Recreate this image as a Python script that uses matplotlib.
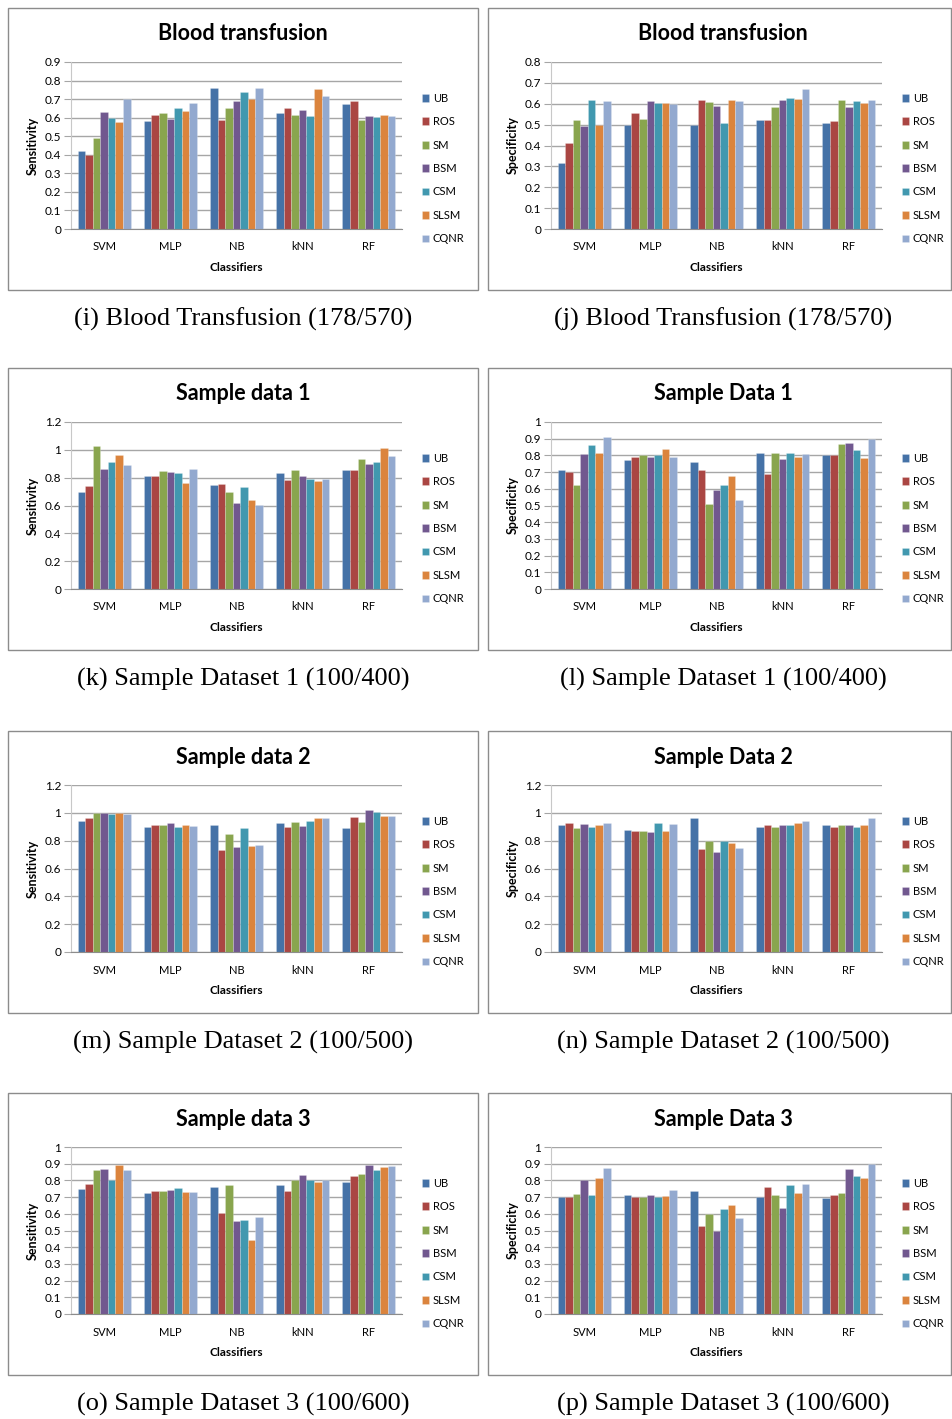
import numpy as np
import matplotlib
matplotlib.use("Agg")
import matplotlib.pyplot as plt
from matplotlib.patches import Rectangle

# classifiers on the x axis, balancing methods as the bar series
classifiers = ["SVM", "MLP", "NB", "kNN", "RF"]
methods = ["UB", "ROS", "SM", "BSM", "CSM", "SLSM", "CQNR"]
colors = ["#4572A7", "#AA4643", "#89A54E", "#71588F", "#4198AF", "#DB843D", "#93A9CF"]

# one row per classifier, one column per method
blood_sens = [
    [0.42, 0.40, 0.49, 0.63, 0.60, 0.575, 0.70],
    [0.58, 0.615, 0.625, 0.595, 0.65, 0.635, 0.68],
    [0.76, 0.59, 0.65, 0.69, 0.74, 0.70, 0.76],
    [0.625, 0.65, 0.615, 0.64, 0.61, 0.755, 0.715],
    [0.675, 0.69, 0.59, 0.61, 0.605, 0.615, 0.61],
]
blood_spec = [
    [0.318, 0.41, 0.52, 0.495, 0.62, 0.50, 0.615],
    [0.50, 0.555, 0.527, 0.615, 0.603, 0.603, 0.60],
    [0.50, 0.62, 0.607, 0.59, 0.51, 0.62, 0.615],
    [0.52, 0.52, 0.583, 0.617, 0.627, 0.625, 0.672],
    [0.51, 0.517, 0.617, 0.583, 0.613, 0.603, 0.617],
]
s1_sens = [
    [0.70, 0.74, 1.025, 0.865, 0.91, 0.965, 0.89],
    [0.815, 0.815, 0.85, 0.84, 0.835, 0.765, 0.865],
    [0.745, 0.755, 0.695, 0.62, 0.73, 0.64, 0.605],
    [0.835, 0.78, 0.855, 0.81, 0.79, 0.775, 0.79],
    [0.855, 0.855, 0.935, 0.895, 0.915, 1.01, 0.955],
]
s1_spec = [
    [0.715, 0.70, 0.62, 0.81, 0.865, 0.815, 0.91],
    [0.77, 0.79, 0.80, 0.79, 0.80, 0.84, 0.79],
    [0.76, 0.715, 0.51, 0.59, 0.62, 0.675, 0.53],
    [0.815, 0.69, 0.815, 0.78, 0.815, 0.79, 0.81],
    [0.805, 0.80, 0.87, 0.875, 0.83, 0.785, 0.90],
]
s2_sens = [
    [0.94, 0.96, 1.0, 1.0, 0.99, 1.0, 0.99],
    [0.895, 0.91, 0.915, 0.925, 0.895, 0.915, 0.905],
    [0.91, 0.73, 0.85, 0.755, 0.89, 0.765, 0.77],
    [0.925, 0.895, 0.935, 0.905, 0.94, 0.965, 0.965],
    [0.89, 0.97, 0.935, 1.02, 1.005, 0.98, 0.98],
]
s2_spec = [
    [0.915, 0.925, 0.89, 0.92, 0.90, 0.915, 0.93],
    [0.88, 0.87, 0.87, 0.865, 0.93, 0.87, 0.92],
    [0.96, 0.74, 0.80, 0.715, 0.80, 0.785, 0.75],
    [0.90, 0.915, 0.90, 0.915, 0.91, 0.925, 0.94],
    [0.915, 0.90, 0.915, 0.91, 0.90, 0.91, 0.96],
]
s3_sens = [
    [0.75, 0.78, 0.86, 0.87, 0.80, 0.89, 0.86],
    [0.725, 0.735, 0.735, 0.74, 0.755, 0.73, 0.73],
    [0.76, 0.605, 0.77, 0.555, 0.56, 0.445, 0.58],
    [0.77, 0.735, 0.805, 0.83, 0.80, 0.79, 0.80],
    [0.79, 0.825, 0.84, 0.895, 0.865, 0.88, 0.885],
]
s3_spec = [
    [0.70, 0.70, 0.72, 0.80, 0.715, 0.815, 0.875],
    [0.71, 0.70, 0.70, 0.715, 0.70, 0.705, 0.74],
    [0.735, 0.525, 0.60, 0.50, 0.63, 0.65, 0.575],
    [0.70, 0.76, 0.71, 0.635, 0.77, 0.725, 0.78],
    [0.695, 0.715, 0.725, 0.87, 0.825, 0.815, 0.90],
]

# (data, title, ylabel, ymax, step, caption)
panels = [
    (blood_sens, "Blood transfusion", "Sensitivity", 0.9, 0.1, "(i) Blood Transfusion (178/570)"),
    (blood_spec, "Blood transfusion", "Specificity", 0.8, 0.1, "(j) Blood Transfusion (178/570)"),
    (s1_sens, "Sample data 1", "Sensitivity", 1.2, 0.2, "(k) Sample Dataset 1 (100/400)"),
    (s1_spec, "Sample Data 1", "Specificity", 1.0, 0.1, "(l) Sample Dataset 1 (100/400)"),
    (s2_sens, "Sample data 2", "Sensitivity", 1.2, 0.2, "(m) Sample Dataset 2 (100/500)"),
    (s2_spec, "Sample Data 2", "Specificity", 1.2, 0.2, "(n) Sample Dataset 2 (100/500)"),
    (s3_sens, "Sample data 3", "Sensitivity", 1.0, 0.1, "(o) Sample Dataset 3 (100/600)"),
    (s3_spec, "Sample Data 3", "Specificity", 1.0, 0.1, "(p) Sample Dataset 3 (100/600)"),
]

W, H = 952, 1419
chart_font = ["Lato", "DejaVu Sans"]
plt.rcParams["font.family"] = chart_font

fig = plt.figure(figsize=(W / 100, H / 100), dpi=100)


def fx(px):
    return px / W


def fy(py):
    return 1 - py / H


box_tops = [8, 368, 731, 1093]
x = np.arange(len(classifiers))
bw = 0.8 / len(methods)

for i, (data, title, ylabel, ymax, step, caption) in enumerate(panels):
    row, col = divmod(i, 2)
    bl = 8 if col == 0 else 488
    br = 478 if col == 0 else 951
    bt = box_tops[row]

    # panel frame
    fig.patches.append(Rectangle((fx(bl), fy(bt + 282)), (br - bl) / W, 282 / H,
                                 transform=fig.transFigure, fill=False,
                                 edgecolor="#8c8c8c", lw=1))

    left, right, top, bottom = bl + 63, bl + 394, bt + 54, bt + 221
    ax = fig.add_axes([fx(left), fy(bottom), (right - left) / W, (bottom - top) / H])
    vals = np.array(data)
    for j, m in enumerate(methods):
        ax.bar(x - 0.4 + bw * (j + 0.5), vals[:, j], bw, color=colors[j], label=m,
               edgecolor=(1, 1, 1, 0.35), lw=0.4)

    ax.set_xlim(-0.5, len(classifiers) - 0.5)
    ax.set_ylim(0, ymax)
    ticks = np.round(np.arange(0, ymax + 1e-9, step), 2)
    ax.set_yticks(ticks)
    ax.set_yticklabels([f"{t:g}" for t in ticks])
    ax.set_xticks(x)
    ax.set_xticklabels(classifiers)
    ax.yaxis.grid(True, color="#a6a6a6", lw=1)
    ax.set_axisbelow(True)
    for s in ("top", "right"):
        ax.spines[s].set_visible(False)
    ax.spines["left"].set_color("#c8c8c8")
    ax.spines["bottom"].set_color("#8c8c8c")
    ax.tick_params(axis="y", length=5, color="#a6a6a6", labelsize=8.5, pad=2)
    ax.tick_params(axis="x", length=0, labelsize=8, pad=9)

    ax.set_xlabel("Classifiers", fontsize=8.5, fontweight="bold", labelpad=7)
    ax.set_ylabel(ylabel, fontsize=9, fontweight="bold")
    ax.yaxis.set_label_coords((bl + 31 - left) / (right - left), 0.5)

    ax.legend(loc="center left", bbox_to_anchor=(fx(bl + 408), fy(bt + 160.5)),
              bbox_transform=fig.transFigure, frameon=False, fontsize=8,
              handlelength=0.7, handleheight=0.7, handletextpad=0.3,
              labelspacing=1.12, borderpad=0)

    fig.text(fx(bl + 235), fy(bt + 26), title, ha="center", va="center",
             fontsize=15.5, fontweight="bold")
    fig.text(fx(bl + 235), fy(bt + 311), caption, ha="center", va="center",
             fontsize=19, family="Liberation Serif")

fig.savefig("out.png", dpi=100)
